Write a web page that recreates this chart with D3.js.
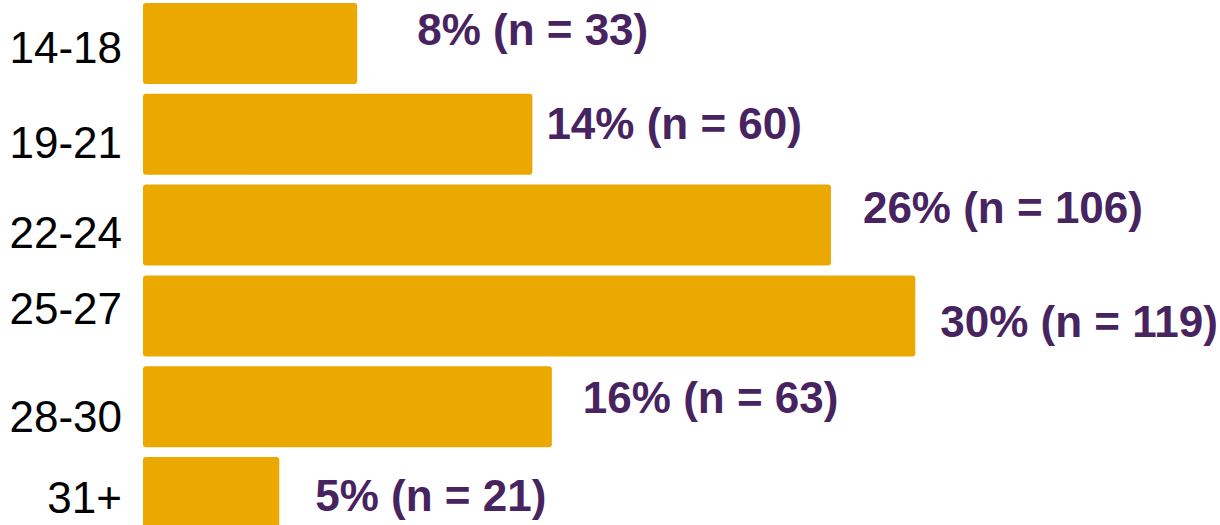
<!DOCTYPE html>
<html>
<head>
<meta charset="utf-8">
<script src="https://cdn.jsdelivr.net/npm/d3@7"></script>
<style>
  html, body { margin: 0; padding: 0; background: #ffffff; }
  svg { display: block; }
</style>
</head>
<body>
<svg id="chart" width="1220" height="525"></svg>
<script>
// ---- data ----
const categories = ["14-18", "19-21", "22-24", "25-27", "28-30", "31+"];
const counts = [33, 60, 106, 119, 63, 21];
const percents = [8, 14, 26, 30, 16, 5];

// ---- layout tweaks for hand-placed labels (pixels) ----
const labelDx = [60, 14, 32, 25, 31, 36];
const labelDy = [-14, -11, -18, 5, -10, -3];
const catDy = [20, 24, 23, 8, 25, 15];

const svg = d3.select("#chart");
const barColor = "#EBA900";
const labelColor = "#47235F";

const x = d3.scaleLinear().domain([0, 119]).range([143, 915.3]);
const y = d3.scaleBand().domain(categories).range([3, 538])
  .paddingInner(0.108).paddingOuter(0);

const rows = categories.map((c, i) => ({
  cat: c, n: counts[i], pct: percents[i], i
}));

svg.append("g").selectAll("rect").data(rows).join("rect")
  .attr("x", x(0))
  .attr("y", d => y(d.cat))
  .attr("width", d => x(d.n) - x(0))
  .attr("height", y.bandwidth())
  .attr("rx", 3).attr("ry", 3)
  .attr("fill", barColor);

// category axis labels
const yAxis = d3.axisLeft(y).tickSize(0).tickPadding(0);
const gAxis = svg.append("g").attr("transform", "translate(122,0)").call(yAxis);
gAxis.select(".domain").remove();
gAxis.selectAll(".tick text")
  .attr("font-family", "'Liberation Sans', Arial, sans-serif")
  .attr("font-size", 44)
  .attr("fill", "#000")
  .attr("dy", null)
  .attr("text-anchor", "end")
  .attr("y", (d, i) => catDy[i])
  .attr("x", 0);

// value labels
svg.append("g").selectAll("text").data(rows).join("text")
  .attr("x", d => x(d.n) + labelDx[d.i])
  .attr("y", d => y(d.cat) + y.bandwidth() / 2 + labelDy[d.i] + 16)
  .attr("font-family", "'Liberation Sans', Arial, sans-serif")
  .attr("font-size", 44)
  .attr("font-weight", "bold")
  .attr("fill", labelColor)
  .text(d => `${d.pct}% (n = ${d.n})`);
</script>
</body>
</html>
